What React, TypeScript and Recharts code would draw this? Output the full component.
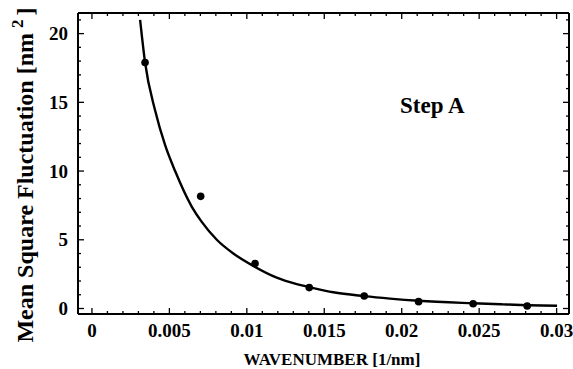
import React from 'react';
import { ComposedChart, Line, Scatter, XAxis, YAxis } from 'recharts';

// Fit curve
const fitK = [0.00311, 0.00343, 0.00408, 0.00472, 0.00537, 0.00645, 0.00709, 0.00806, 0.00913, 0.01042, 0.01193, 0.01322, 0.01403, 0.01558, 0.01758, 0.01924, 0.0211, 0.02461, 0.02655, 0.0281, 0.03003];
const fitV = [21.0, 17.9, 14.4, 11.9, 10.0, 7.4, 6.3, 5.0, 4.0, 3.1, 2.25, 1.78, 1.56, 1.18, 0.9, 0.72, 0.56, 0.38, 0.3, 0.24, 0.2];

// Measured points
const dataK = [0.00343, 0.00702, 0.01053, 0.01403, 0.01758, 0.02109, 0.02461, 0.0281];
const dataV = [17.9, 8.16, 3.27, 1.52, 0.91, 0.5, 0.35, 0.18];

const xMajorTicks = [0, 0.005, 0.01, 0.015, 0.02, 0.025, 0.03];
const xTickLabels = ['0', '0.005', '0.01', '0.015', '0.02', '0.025', '0.03'];
const yMajorTicks = [0, 5, 10, 15, 20];
const yTickLabels = ['0', '5', '10', '15', '20'];
const xMinorTicks = Array.from({ length: 31 }, (_, i) => +(i * 0.001).toFixed(3));
const yMinorTicks = Array.from({ length: 22 }, (_, i) => i);

const fitData = fitK.map((k, i) => ({ k, v: fitV[i] }));
const pointData = dataK.map((k, i) => ({ k, v: dataV[i] }));

const FONT = '"Liberation Serif", "Times New Roman", Times, serif';
const majorIndex = (v: number, arr: number[]) => arr.findIndex((m) => Math.abs(m - v) < 1e-9);

const BottomTick = (props: any) => {
  const { x, y, payload } = props;
  const idx = majorIndex(payload.value, xMajorTicks);
  const major = idx >= 0;
  return (
    <g>
      <line x1={x} y1={y} x2={x} y2={y - (major ? 6 : 3)} stroke="#000" strokeWidth={1.3} />
      {major && (
        <text x={x} y={y + 23} textAnchor="middle" fontFamily={FONT} fontWeight="bold" fontSize={19} fill="#000">
          {xTickLabels[idx]}
        </text>
      )}
    </g>
  );
};

const TopTick = (props: any) => {
  const { x, y, payload } = props;
  const major = majorIndex(payload.value, xMajorTicks) >= 0;
  return <line x1={x} y1={y} x2={x} y2={y + (major ? 6 : 3)} stroke="#000" strokeWidth={1.3} />;
};

const LeftTick = (props: any) => {
  const { x, y, payload } = props;
  const idx = majorIndex(payload.value, yMajorTicks);
  const major = idx >= 0;
  return (
    <g>
      <line x1={x} y1={y} x2={x + (major ? 6 : 3)} y2={y} stroke="#000" strokeWidth={1.3} />
      {major && (
        <text x={x - 10} y={y + 6.5} textAnchor="end" fontFamily={FONT} fontWeight="bold" fontSize={19} fill="#000">
          {yTickLabels[idx]}
        </text>
      )}
    </g>
  );
};

const RightTick = (props: any) => {
  const { x, y, payload } = props;
  const major = majorIndex(payload.value, yMajorTicks) >= 0;
  return <line x1={x} y1={y} x2={x - (major ? 6 : 3)} y2={y} stroke="#000" strokeWidth={1.3} />;
};

const YLabel = () => (
  <text transform="translate(33,175) rotate(-90)" textAnchor="middle" fontFamily={FONT} fontWeight="bold" fontSize={24} fill="#000">
    Mean Square Fluctuation [nm
    <tspan dx={5} dy={-10} fontSize={17}>2</tspan>
    <tspan dx={4} dy={10}>]</tspan>
  </text>
);

const XLabel = () => (
  <text x={332} y={365} textAnchor="middle" fontFamily={FONT} fontWeight="bold" fontSize={17} fill="#000">
    WAVENUMBER [1/nm]
  </text>
);

const StepLabel = () => (
  <text x={400} y={113} textAnchor="start" fontFamily={FONT} fontWeight="bold" fontSize={23} fill="#000">
    Step A
  </text>
);

const Dot = (props: any) => {
  const { cx, cy } = props;
  return <circle cx={cx} cy={cy} r={3.8} fill="#000" />;
};

export default function App() {
  return (
    <div style={{ position: 'absolute', left: 0, top: 0, width: 573, height: 369, background: '#fff' }}>
      <ComposedChart width={573} height={369} margin={{ top: 12, right: 1, bottom: 0, left: 0 }}>
        <XAxis
          xAxisId="b"
          type="number"
          dataKey="k"
          orientation="bottom"
          domain={[-0.0009, 0.0308]}
          allowDataOverflow
          ticks={xMinorTicks}
          interval={0}
          tick={<BottomTick />}
          tickLine={false}
          tickSize={0}
          tickMargin={0}
          height={55}
          axisLine={{ stroke: '#000', strokeWidth: 2 }}
          label={<XLabel />}
        />
        <XAxis
          xAxisId="t"
          type="number"
          dataKey="k"
          orientation="top"
          domain={[-0.0009, 0.0308]}
          allowDataOverflow
          ticks={xMinorTicks}
          interval={0}
          tick={<TopTick />}
          tickLine={false}
          tickSize={0}
          tickMargin={0}
          height={1}
          axisLine={{ stroke: '#000', strokeWidth: 2 }}
          label={<StepLabel />}
        />
        <YAxis
          yAxisId="l"
          type="number"
          dataKey="v"
          orientation="left"
          domain={[-0.4, 21.5]}
          allowDataOverflow
          ticks={yMinorTicks}
          interval={0}
          tick={<LeftTick />}
          tickLine={false}
          tickSize={0}
          tickMargin={0}
          width={78}
          axisLine={{ stroke: '#000', strokeWidth: 2 }}
          label={<YLabel />}
        />
        <YAxis
          yAxisId="r"
          type="number"
          dataKey="v"
          orientation="right"
          domain={[-0.4, 21.5]}
          allowDataOverflow
          ticks={yMinorTicks}
          interval={0}
          tick={<RightTick />}
          tickLine={false}
          tickSize={0}
          tickMargin={0}
          width={3}
          axisLine={{ stroke: '#000', strokeWidth: 2 }}
        />
        <Line
          xAxisId="b"
          yAxisId="l"
          data={fitData}
          dataKey="v"
          type="monotone"
          stroke="#000"
          strokeWidth={2.4}
          dot={false}
          activeDot={false}
          isAnimationActive={false}
        />
        <Scatter
          xAxisId="b"
          yAxisId="l"
          data={pointData}
          dataKey="v"
          shape={<Dot />}
          isAnimationActive={false}
        />
        <Scatter xAxisId="t" yAxisId="r" data={pointData} dataKey="v" shape={() => null} isAnimationActive={false} />
      </ComposedChart>
    </div>
  );
}
